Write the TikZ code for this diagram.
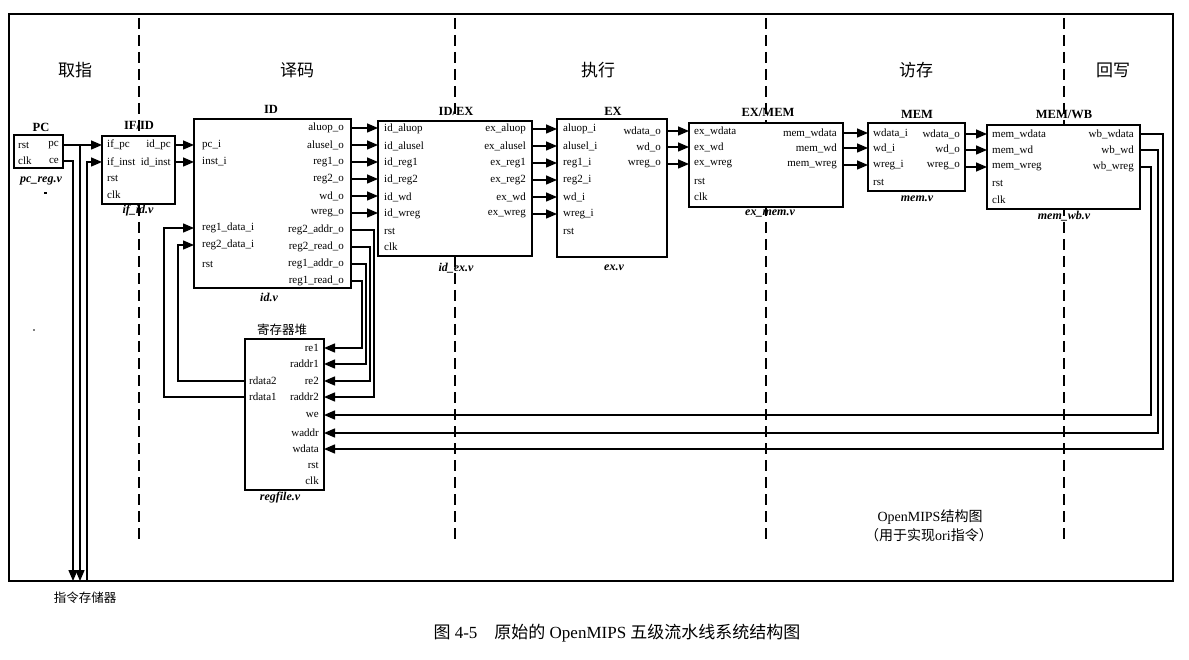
\documentclass[tikz,border=0pt]{standalone}
\usepackage{fontspec}
\setmainfont{Liberation Serif}
\newfontfamily\cjk{Noto Sans CJK SC}
\usetikzlibrary{arrows.meta}
\begin{document}
\begin{tikzpicture}[x=1pt,y=-1pt,
 blk/.style={draw, line width=1.6pt, fill=white, anchor=north west, inner sep=0pt, outer sep=0pt},
 pl/.style={anchor=west, inner sep=0pt, font=\fontsize{11}{12}\selectfont},
 pr/.style={anchor=east, inner sep=0pt, font=\fontsize{11}{12}\selectfont},
 ttl/.style={inner sep=0pt, font=\bfseries\fontsize{12.5}{13}\selectfont},
 fn/.style={inner sep=0pt, font=\bfseries\itshape\fontsize{12}{13}\selectfont},
 stg/.style={inner sep=0pt, font=\cjk\fontsize{17}{18}\selectfont},
 arr/.style={line width=1.5pt, line join=miter, -{Triangle[length=11pt,width=9pt]}},
 wire/.style={line width=1.5pt, line join=miter},
 dsh/.style={line width=1.4pt, dash pattern=on 11pt off 6pt},
 frm/.style={line width=1.8pt}]

\useasboundingbox (0,0) rectangle (1189,660);

% frame
\draw[frm] (9,14) rectangle (1173,581);
\coordinate (fbot) at (0,581);

% stage dashed separators
\draw[dsh] (139,18) -- (139,541);
\draw[dsh] (455,18) -- (455,541);
\draw[dsh] (766,18) -- (766,541);
\draw[dsh] (1064,18) -- (1064,542);

% stage labels
\node[stg] (s1) at (75,70) {取指};
\node[stg] (s2) at (297,70) {译码};
\node[stg] (s3) at (598,70) {执行};
\node[stg] (s4) at (916,70) {访存};
\node[stg] (s5) at (1113,70) {回写};

% ---------- PC ----------
\node[blk, minimum width=49pt, minimum height=33pt] (pc) at (14,135) {};
\node[ttl] (pct) at (41,127) {PC};
\node[fn] (pcf) at (41,181) {pc\_reg.v};
\node[pl] (pc-rst) at (18,145) {rst};
\node[pr] (pc-pc) at (59,145) {pc};
\node[pl] (pc-clk) at (18,161) {clk};
\node[pr] (pc-ce) at (59,161) {ce};
\fill (44,192.3) rectangle (47,194);
\fill (34,330) circle (0.9);

% ---------- IF/ID ----------
\node[blk, minimum width=73pt, minimum height=68pt] (ifid) at (102,136) {};
\node[ttl] (ifidt) at (139,125) {IF/ID};
\node[fn] (ifidf) at (138,211) {if\_id.v};
\node[pl] (ifid-pc) at (107,145) {if\_pc};
\node[pl] (ifid-inst) at (107,162) {if\_inst};
\node[pl] (ifid-rst) at (107,178) {rst};
\node[pl] (ifid-clk) at (107,195) {clk};
\node[pr] (ifid-idpc) at (171,145) {id\_pc};
\node[pr] (ifid-idinst) at (171,162) {id\_inst};

% ---------- ID ----------
\node[blk, minimum width=157pt, minimum height=169pt] (id) at (194,119) {};
\node[ttl] (idt) at (271,109) {ID};
\node[fn] (idf) at (269,297) {id.v};
\node[pl] (id-pci) at (202,145) {pc\_i};
\node[pl] (id-insti) at (202,162) {inst\_i};
\node[pl] (id-r1data) at (202,228) {reg1\_data\_i};
\node[pl] (id-r2data) at (202,245) {reg2\_data\_i};
\node[pl] (id-rst) at (202,264) {rst};
\node[pr] (id-aluop) at (344,128) {aluop\_o};
\node[pr] (id-alusel) at (344,145) {alusel\_o};
\node[pr] (id-reg1) at (344,162) {reg1\_o};
\node[pr] (id-reg2) at (344,179) {reg2\_o};
\node[pr] (id-wd) at (344,196) {wd\_o};
\node[pr] (id-wreg) at (344,213) {wreg\_o};
\node[pr] (id-r2addr) at (344,230) {reg2\_addr\_o};
\node[pr] (id-r2read) at (344,247) {reg2\_read\_o};
\node[pr] (id-r1addr) at (344,264) {reg1\_addr\_o};
\node[pr] (id-r1read) at (344,281) {reg1\_read\_o};

% ---------- ID/EX ----------
\node[blk, minimum width=154pt, minimum height=135pt] (idex) at (378,121) {};
\node[ttl] (idext) at (456,111) {ID/EX};
\node[fn] (idexf) at (456,268) {id\_ex.v};
\node[pl] (idex-aluop) at (384,129) {id\_aluop};
\node[pl] (idex-alusel) at (384,146) {id\_alusel};
\node[pl] (idex-reg1) at (384,163) {id\_reg1};
\node[pl] (idex-reg2) at (384,180) {id\_reg2};
\node[pl] (idex-wd) at (384,197) {id\_wd};
\node[pl] (idex-wreg) at (384,214) {id\_wreg};
\node[pl] (idex-rst) at (384,231) {rst};
\node[pl] (idex-clk) at (384,247) {clk};
\node[pr] (idex-exaluop) at (526,129) {ex\_aluop};
\node[pr] (idex-exalusel) at (526,146) {ex\_alusel};
\node[pr] (idex-exreg1) at (526,163) {ex\_reg1};
\node[pr] (idex-exreg2) at (526,180) {ex\_reg2};
\node[pr] (idex-exwd) at (526,197) {ex\_wd};
\node[pr] (idex-exwreg) at (526,214) {ex\_wreg};

% ---------- EX ----------
\node[blk, minimum width=110pt, minimum height=138pt] (ex) at (557,119) {};
\node[ttl] (ext) at (613,111) {EX};
\node[fn] (exf) at (614,268) {ex.v};
\node[pl] (ex-aluop) at (563,129) {aluop\_i};
\node[pl] (ex-alusel) at (563,146) {alusel\_i};
\node[pl] (ex-reg1) at (563,163) {reg1\_i};
\node[pl] (ex-reg2) at (563,180) {reg2\_i};
\node[pl] (ex-wd) at (563,197) {wd\_i};
\node[pl] (ex-wreg) at (563,214) {wreg\_i};
\node[pl] (ex-rst) at (563,231) {rst};
\node[pr] (ex-wdata) at (661,131) {wdata\_o};
\node[pr] (ex-wdo) at (661,147) {wd\_o};
\node[pr] (ex-wrego) at (661,164) {wreg\_o};

% ---------- EX/MEM ----------
\node[blk, minimum width=154pt, minimum height=84pt] (exm) at (689,123) {};
\node[ttl] (exmt) at (768,112) {EX/MEM};
\node[fn] (exmf) at (770,214) {ex\_mem.v};
\node[pl] (exm-wdata) at (694,131) {ex\_wdata};
\node[pl] (exm-wd) at (694,147) {ex\_wd};
\node[pl] (exm-wreg) at (694,164) {ex\_wreg};
\node[pl] (exm-rst) at (694,181) {rst};
\node[pl] (exm-clk) at (694,197) {clk};
\node[pr] (exm-mwdata) at (837,133) {mem\_wdata};
\node[pr] (exm-mwd) at (837,148) {mem\_wd};
\node[pr] (exm-mwreg) at (837,165) {mem\_wreg};

% ---------- MEM ----------
\node[blk, minimum width=97pt, minimum height=68pt] (mem) at (868,123) {};
\node[ttl] (memt) at (917,114) {MEM};
\node[fn] (memf) at (917,199) {mem.v};
\node[pl] (mem-wdata) at (873,133) {wdata\_i};
\node[pl] (mem-wd) at (873,148) {wd\_i};
\node[pl] (mem-wreg) at (873,165) {wreg\_i};
\node[pl] (mem-rst) at (873,182) {rst};
\node[pr] (mem-wdatao) at (960,134) {wdata\_o};
\node[pr] (mem-wdo) at (960,149) {wd\_o};
\node[pr] (mem-wrego) at (960,166) {wreg\_o};

% ---------- MEM/WB ----------
\node[blk, minimum width=153pt, minimum height=84pt] (mw) at (987,125) {};
\node[ttl] (mwt) at (1064,114) {MEM/WB};
\node[fn] (mwf) at (1064,216) {mem\_wb.v};
\node[pl] (mw-wdata) at (992,134) {mem\_wdata};
\node[pl] (mw-wd) at (992,150) {mem\_wd};
\node[pl] (mw-wreg) at (992,167) {mem\_wreg};
\node[pl] (mw-rst) at (992,183) {rst};
\node[pl] (mw-clk) at (992,200) {clk};
\node[pr] (mw-wbwdata) at (1134,134) {wb\_wdata};
\node[pr] (mw-wbwd) at (1134,150) {wb\_wd};
\node[pr] (mw-wbwreg) at (1134,167) {wb\_wreg};

% ---------- regfile ----------
\node[blk, minimum width=79pt, minimum height=151pt] (rf) at (245,339) {};
\node[inner sep=0pt, font=\cjk\fontsize{12.5}{13}\selectfont] (rft) at (282,330) {寄存器堆};
\node[fn] (rff) at (280,498) {regfile.v};
\node[pr] (rf-re1) at (319,348) {re1};
\node[pr] (rf-raddr1) at (319,364) {raddr1};
\node[pr] (rf-re2) at (319,381) {re2};
\node[pr] (rf-raddr2) at (319,397) {raddr2};
\node[pr] (rf-we) at (319,415) {we};
\node[pr] (rf-waddr) at (319,433) {waddr};
\node[pr] (rf-wdata) at (319,449) {wdata};
\node[pr] (rf-rst) at (319,465) {rst};
\node[pr] (rf-clk) at (319,481) {clk};
\node[pl] (rf-rdata2) at (249,381) {rdata2};
\node[pl] (rf-rdata1) at (249,397) {rdata1};

% ---------- texts ----------
\node[inner sep=0pt, font=\fontsize{14}{15}\selectfont] (note1) at (930,517) {OpenMIPS{\cjk 结构图}};
\node[inner sep=0pt, font=\fontsize{14}{15}\selectfont] (note2) at (929,535) {{\cjk （用于实现}ori{\cjk 指令）}};
\node[inner sep=0pt, font=\cjk\fontsize{12.5}{13}\selectfont] (imem) at (85,598) {指令存储器};
\node[inner sep=0pt, font=\fontsize{17}{18}\selectfont] (cap) at (617,633) {{\cjk 图}~4-5\hspace{1em}{\cjk 原始的} OpenMIPS {\cjk 五级流水线系统结构图}};

% ---------- bus coordinates ----------
\coordinate (bce) at (73,0);
\coordinate (bpc) at (80,0);
\coordinate (binst) at (87,0);
\coordinate (pcj) at (80,145);
\coordinate (b1) at (362,0);
\coordinate (b2) at (366,0);
\coordinate (b3) at (370,0);
\coordinate (b4) at (374,0);
\coordinate (brd2) at (178,0);
\coordinate (brd1) at (164,0);
\coordinate (w1) at (1163,0);
\coordinate (w2) at (1158,0);
\coordinate (w3) at (1151,0);

% ---------- connectors ----------
% PC / instruction memory
\draw[arr] (pc.east |- pc-pc) -- (ifid.west |- pc-pc);
\draw[arr] (pcj) -- (bpc |- fbot);
\draw[arr] (pc.east |- pc-ce) -| (bce |- fbot);
\draw[arr] (binst |- fbot) |- (ifid.west |- ifid-inst);

% IF/ID -> ID
\draw[arr] (ifid.east |- ifid-idpc) -- (id.west |- ifid-idpc);
\draw[arr] (ifid.east |- ifid-idinst) -- (id.west |- ifid-idinst);

% ID -> ID/EX
\foreach \p in {aluop,alusel,reg1,reg2,wd,wreg}
  \draw[arr] (id.east |- id-\p) -- (idex.west |- id-\p);

% ID/EX -> EX
\foreach \p in {aluop,alusel,reg1,reg2,wd,wreg}
  \draw[arr] (idex.east |- ex-\p) -- (ex.west |- ex-\p);

% EX -> EX/MEM
\draw[arr] (ex.east |- exm-wdata) -- (exm.west |- exm-wdata);
\draw[arr] (ex.east |- exm-wd) -- (exm.west |- exm-wd);
\draw[arr] (ex.east |- exm-wreg) -- (exm.west |- exm-wreg);

% EX/MEM -> MEM
\draw[arr] (exm.east |- mem-wdata) -- (mem.west |- mem-wdata);
\draw[arr] (exm.east |- mem-wd) -- (mem.west |- mem-wd);
\draw[arr] (exm.east |- mem-wreg) -- (mem.west |- mem-wreg);

% MEM -> MEM/WB
\draw[arr] (mem.east |- mw-wdata) -- (mw.west |- mw-wdata);
\draw[arr] (mem.east |- mw-wd) -- (mw.west |- mw-wd);
\draw[arr] (mem.east |- mw-wreg) -- (mw.west |- mw-wreg);

% ID -> regfile
\draw[arr] (id.east |- id-r1read) -| (b1 |- rf-re1) -- (rf.east |- rf-re1);
\draw[arr] (id.east |- id-r1addr) -| (b2 |- rf-raddr1) -- (rf.east |- rf-raddr1);
\draw[arr] (id.east |- id-r2read) -| (b3 |- rf-re2) -- (rf.east |- rf-re2);
\draw[arr] (id.east |- id-r2addr) -| (b4 |- rf-raddr2) -- (rf.east |- rf-raddr2);

% regfile -> ID
\draw[arr] (rf.west |- rf-rdata2) -| (brd2 |- id-r2data) -- (id.west |- id-r2data);
\draw[arr] (rf.west |- rf-rdata1) -| (brd1 |- id-r1data) -- (id.west |- id-r1data);

% MEM/WB -> regfile (write back)
\draw[arr] (mw.east |- mw-wbwdata) -| (w1 |- rf-wdata) -- (rf.east |- rf-wdata);
\draw[arr] (mw.east |- mw-wbwd) -| (w2 |- rf-waddr) -- (rf.east |- rf-waddr);
\draw[arr] (mw.east |- mw-wbwreg) -| (w3 |- rf-we) -- (rf.east |- rf-we);

\end{tikzpicture}
\end{document}
